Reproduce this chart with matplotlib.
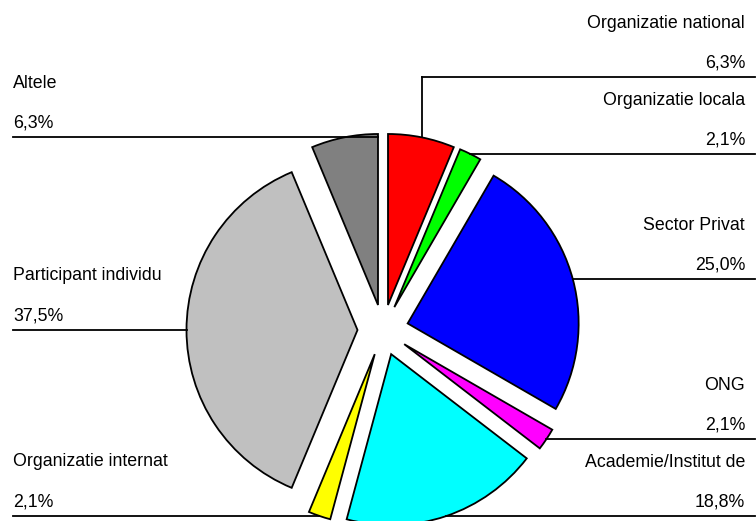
import numpy as np
import matplotlib
matplotlib.use("Agg")
import matplotlib.pyplot as plt

plt.rcParams['font.family'] = ['Liberation Sans', 'DejaVu Sans']

# data #
names = ["Organizatie national", "Organizatie locala", "Sector Privat", "ONG",
         "Academie/Institut de", "Organizatie internat", "Participant individu", "Altele"]
values = [6.3, 2.1, 25.0, 2.1, 18.8, 2.1, 37.5, 6.3]
colors = ["#FF0000", "#00FF00", "#0000FF", "#FF00FF",
          "#00FFFF", "#FFFF00", "#C0C0C0", "#808080"]

W, H = 756, 521
fig = plt.figure(figsize=(W / 100, H / 100), dpi=100)
ax = fig.add_axes([0, 0, 1, 1])

# pie, in pixel units (y up) #
cx, cy, R, expl = 383, H - 330, 171, 25.5
wedges, _ = ax.pie(values, colors=colors, startangle=90, counterclock=False,
                   center=(cx, cy), radius=R, explode=[expl] * len(values),
                   wedgeprops=dict(edgecolor='black', linewidth=1.3))
ax.set_xlim(0, W)
ax.set_ylim(0, H)
ax.set_aspect('equal')
ax.axis('off')

# labels and leader lines #
fs = 12.8
for i, w in enumerate(wedges):
    tm = np.deg2rad((w.theta1 + w.theta2) / 2)
    ox, oy = w.center
    px, py = ox + w.r * np.cos(tm), oy + w.r * np.sin(tm)
    right = np.cos(tm) > 0
    line_y = py
    if i == 0:
        # first label sits higher, leader goes up then right
        line_y = H - 77
        ax.plot([px, px], [py, line_y], color='black', lw=1.3, zorder=5)
    if right:
        ax.plot([px, 755], [line_y, line_y], color='black', lw=1.3, zorder=5)
        tx, ha = 745, 'right'
    else:
        x_end = px if i != len(wedges) - 1 else ox
        ax.plot([13, x_end], [line_y, line_y], color='black', lw=1.3, zorder=5)
        tx, ha = 13, 'left'
    pct = f"{values[i]:.1f}".replace('.', ',') + '%'
    ax.text(tx, line_y + 54, names[i], ha=ha, va='center', fontsize=fs)
    ax.text(tx, line_y + 14, pct, ha=ha, va='center', fontsize=fs)

fig.savefig("out.png", dpi=100)
